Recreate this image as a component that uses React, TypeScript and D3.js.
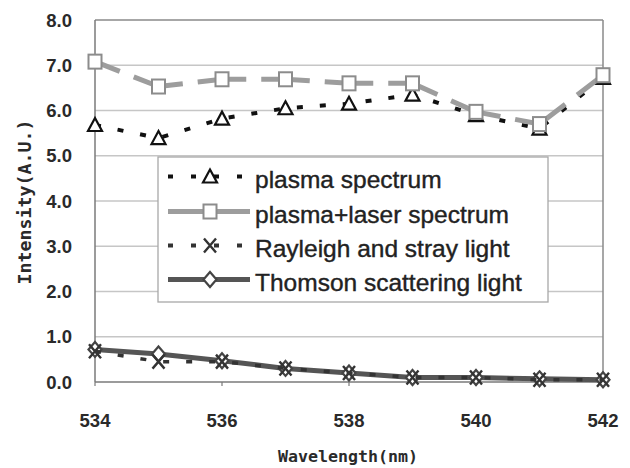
import { scaleLinear, line, range } from 'd3';

// wavelength grid (nm)
const wavelengths = [534, 535, 536, 537, 538, 539, 540, 541, 542];
const xTicks = [534, 536, 538, 540, 542];
const yTicks = [0, 1, 2, 3, 4, 5, 6, 7, 8];

// intensities (A.U.)
const plasma = [5.68, 5.39, 5.82, 6.05, 6.15, 6.35, 5.9, 5.6, 6.72];
const plasmaLaser = [7.08, 6.53, 6.69, 6.69, 6.6, 6.6, 5.97, 5.7, 6.78];
const rayleigh = [0.68, 0.45, 0.45, 0.3, 0.2, 0.1, 0.1, 0.05, 0.05];
const thomson = [0.72, 0.62, 0.47, 0.3, 0.2, 0.1, 0.1, 0.07, 0.05];

const legendLabels = [
  'plasma spectrum',
  'plasma+laser spectrum',
  'Rayleigh and stray light',
  'Thomson scattering light',
];

const W = 630;
const H = 468;
const m = { top: 20, right: 27, bottom: 86, left: 95 };

const x = scaleLinear().domain([534, 542]).range([m.left, W - m.right]);
const y = scaleLinear().domain([0, 8]).range([H - m.bottom, m.top]);

type Pt = [number, number];
const pts = (vals: number[]): Pt[] => vals.map((v, i) => [x(wavelengths[i]), y(v)]);
const lineGen = line<Pt>();

const triangle = 'M0,-7L7,6L-7,6Z';
const diamond = 'M0,-7.5L6.5,0L0,7.5L-6.5,0Z';
const cross = 'M-6,-7L6,7M6,-7L-6,7';

function Marker({ kind, cx, cy }: { kind: string; cx: number; cy: number }) {
  const t = `translate(${cx},${cy})`;
  if (kind === 'tri')
    return <path d={triangle} transform={t} fill="#fff" stroke="#111" strokeWidth={2.2} />;
  if (kind === 'sq')
    return <rect x={cx - 6.5} y={cy - 7} width={13} height={14} fill="#fff" stroke="#8c8c8c" strokeWidth={2} />;
  if (kind === 'x')
    return <path d={cross} transform={t} fill="none" stroke="#333" strokeWidth={2.4} />;
  return <path d={diamond} transform={t} fill="#fff" stroke="#444" strokeWidth={2.2} />;
}

// gray series: solid segments with a gap centred between neighbouring points
function GapSegments({ p, gap }: { p: Pt[]; gap: number }) {
  return (
    <g>
      {range(p.length - 1).map((i) => {
        const a = p[i];
        const b = p[i + 1];
        const L = Math.hypot(b[0] - a[0], b[1] - a[1]);
        return (
          <path
            key={i}
            d={lineGen([a, b]) ?? ''}
            fill="none"
            stroke="#9d9d9d"
            strokeWidth={5}
            strokeDasharray={`${(L - gap) / 2} ${gap} ${L}`}
          />
        );
      })}
    </g>
  );
}

export default function App() {
  const pPlasma = pts(plasma);
  const pLaser = pts(plasmaLaser);
  const pRay = pts(rayleigh);
  const pThom = pts(thomson);

  const legendX0 = 168;
  const legendX1 = 250;
  const legendMk = 210;
  const baselines = [188, 223, 257, 291];

  return (
    <svg
      width={W}
      height={H}
      viewBox={`0 0 ${W} ${H}`}
      style={{ position: 'absolute', left: 0, top: 0, background: '#fff' }}
      fontFamily="'Liberation Sans', Arial, sans-serif"
    >
      {/* grid */}
      {yTicks.slice(1, -1).map((t) => (
        <line key={t} x1={m.left} x2={W - m.right} y1={y(t)} y2={y(t)} stroke="#c6c6c6" strokeWidth={1.3} />
      ))}
      <line x1={m.left} x2={W - m.right} y1={y(8)} y2={y(8)} stroke="#8a8a8a" strokeWidth={1.5} />
      <line x1={W - m.right} x2={W - m.right} y1={y(8)} y2={y(0)} stroke="#8a8a8a" strokeWidth={1.5} />
      <line x1={m.left} x2={m.left} y1={y(8)} y2={y(0)} stroke="#7a7a7a" strokeWidth={1.5} />
      <line x1={m.left} x2={W - m.right} y1={y(0)} y2={y(0)} stroke="#7a7a7a" strokeWidth={1.5} />
      {xTicks.map((t) => (
        <line key={t} x1={x(t)} x2={x(t)} y1={y(0)} y2={y(0) + 4} stroke="#7a7a7a" strokeWidth={1.2} />
      ))}

      {/* y tick labels */}
      {yTicks.map((t) => (
        <text
          key={t}
          x={72}
          y={y(t) + 6.5}
          textAnchor="end"
          fontSize={18.5}
          fontWeight="bold"
          fill="#2a2a2a"
        >
          {t.toFixed(1)}
        </text>
      ))}
      {/* x tick labels */}
      {xTicks.map((t) => (
        <text key={t} x={x(t)} y={427} textAnchor="middle" fontSize={18.5} fontWeight="bold" fill="#2a2a2a">
          {t}
        </text>
      ))}

      {/* axis titles */}
      <text
        x={348}
        y={462}
        textAnchor="middle"
        fontSize={16}
        fontWeight="bold"
        fill="#2a2a2a"
        fontFamily="'DejaVu Sans Mono', monospace"
        textLength={140}
        lengthAdjust="spacingAndGlyphs"
      >
        Wavelength(nm)
      </text>
      <text
        transform="translate(31,202) rotate(-90)"
        textAnchor="middle"
        fontSize={17}
        fontWeight="bold"
        fill="#2a2a2a"
        fontFamily="'DejaVu Sans Mono', monospace"
        textLength={165}
        lengthAdjust="spacingAndGlyphs"
      >
        Intensity(A.U.)
      </text>

      {/* plasma spectrum */}
      <path d={lineGen(pPlasma) ?? ''} fill="none" stroke="#111" strokeWidth={4} strokeDasharray="6 17" />
      {pPlasma.map((p, i) => (
        <Marker key={i} kind="tri" cx={p[0]} cy={p[1]} />
      ))}

      {/* plasma+laser spectrum */}
      <GapSegments p={pLaser} gap={15} />
      {pLaser.map((p, i) => (
        <Marker key={i} kind="sq" cx={p[0]} cy={p[1]} />
      ))}

      {/* Thomson scattering light */}
      <path d={lineGen(pThom) ?? ''} fill="none" stroke="#555" strokeWidth={5} />
      {pThom.map((p, i) => (
        <Marker key={i} kind="dia" cx={p[0]} cy={p[1]} />
      ))}

      {/* Rayleigh and stray light */}
      <path d={lineGen(pRay) ?? ''} fill="none" stroke="#333" strokeWidth={3.5} strokeDasharray="6 17" />
      {pRay.map((p, i) => (
        <Marker key={i} kind="x" cx={p[0]} cy={p[1]} />
      ))}

      {/* legend */}
      <rect x={158} y={157} width={390} height={145} fill="#fff" stroke="#a8a8a8" strokeWidth={1.3} />
      {legendLabels.map((lab, i) => {
        const ly = baselines[i] - 11.5;
        const kinds = ['tri', 'sq', 'x', 'dia'];
        let sample;
        if (i === 0 || i === 2) {
          sample = (
            <line
              x1={legendX0}
              x2={legendX1}
              y1={ly}
              y2={ly}
              stroke={i === 0 ? '#111' : '#333'}
              strokeWidth={4}
              strokeDasharray="5 18"
            />
          );
        } else {
          sample = (
            <line
              x1={legendX0}
              x2={legendX1}
              y1={ly}
              y2={ly}
              stroke={i === 1 ? '#9d9d9d' : '#555'}
              strokeWidth={5}
            />
          );
        }
        return (
          <g key={lab}>
            {sample}
            <Marker kind={kinds[i]} cx={legendMk} cy={ly} />
            <text x={255} y={baselines[i]} fontSize={24.5} fill="#222" stroke="#222" strokeWidth={0.4}>
              {lab}
            </text>
          </g>
        );
      })}
    </svg>
  );
}
